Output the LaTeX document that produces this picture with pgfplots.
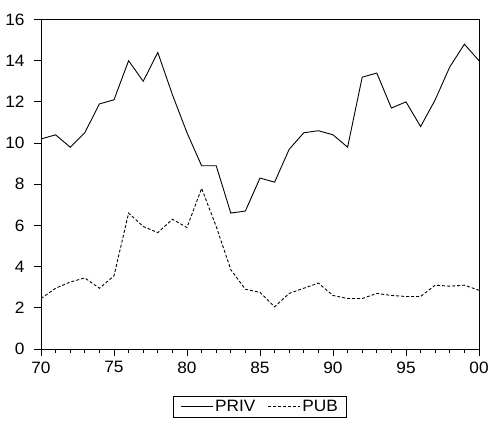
\documentclass[border=0pt]{standalone}
\usepackage{fontspec}
\setmainfont{Liberation Sans}[FakeStretch=1.05]
\usepackage{pgfplots}
\pgfplotsset{compat=1.18}

\pgfplotstableread{
year priv pub
70 10.2 2.45
71 10.4 2.95
72 9.8 3.25
73 10.5 3.45
74 11.9 2.95
75 12.1 3.55
76 14.0 6.6
77 13.0 5.95
78 14.4 5.65
79 12.35 6.3
80 10.5 5.9
81 8.9 7.8
82 8.9 5.95
83 6.6 3.85
84 6.7 2.9
85 8.3 2.75
86 8.1 2.05
87 9.7 2.7
88 10.5 2.95
89 10.6 3.2
90 10.4 2.6
91 9.8 2.45
92 13.2 2.45
93 13.4 2.7
94 11.7 2.6
95 12.0 2.55
96 10.8 2.55
97 12.1 3.1
98 13.7 3.05
99 14.8 3.1
100 14.0 2.85
}\data

\begin{document}
\begin{tikzpicture}
\begin{axis}[
  at={(0,0)}, anchor=south west,
  width=438bp, height=329.5bp, scale only axis,
  xmin=70, xmax=100, ymin=0, ymax=16,
  xtick={70,75,...,100},
  xticklabels={70,75,80,85,90,95,00},
  minor xtick={71,72,73,74,76,77,78,79,81,82,83,84,86,87,88,89,91,92,93,94,96,97,98,99},
  ytick={0,2,...,16},
  xtick pos=bottom, ytick pos=left,
  tick align=outside,
  major tick length=7bp, minor tick length=4bp,
  axis line style={line width=0.8bp},
  tick style={black, line width=1bp},
  minor tick style={black, line width=1bp},
  /pgf/number format/assume math mode=true,
  tick label style={font=\fontsize{16.5}{19}\selectfont},
  xticklabel style={yshift=-2bp},
  yticklabel style={xshift=-6bp},
  legend columns=2,
  legend style={at={(0.5,-0.1426)}, anchor=north, draw=black,
    line width=0.8bp, font=\fontsize{16.5}{19}\selectfont,
    inner xsep=7bp, inner ysep=2bp,
    /tikz/every even column/.append style={column sep=10bp}},
  legend image code/.code={\draw[#1] (0bp,0bp) -- (32bp,0bp);},
]
\addplot[black, line width=0.9bp] table[x=year, y=priv] {\data};
\addlegendentry{PRIV}
\addplot[black, line width=0.9bp, dash pattern=on 3bp off 2bp] table[x=year, y=pub] {\data};
\addlegendentry{PUB}
\end{axis}
\pgfresetboundingbox
\path[use as bounding box] (-41bp,-73bp) rectangle (448bp,349bp);
\end{tikzpicture}
\end{document}
